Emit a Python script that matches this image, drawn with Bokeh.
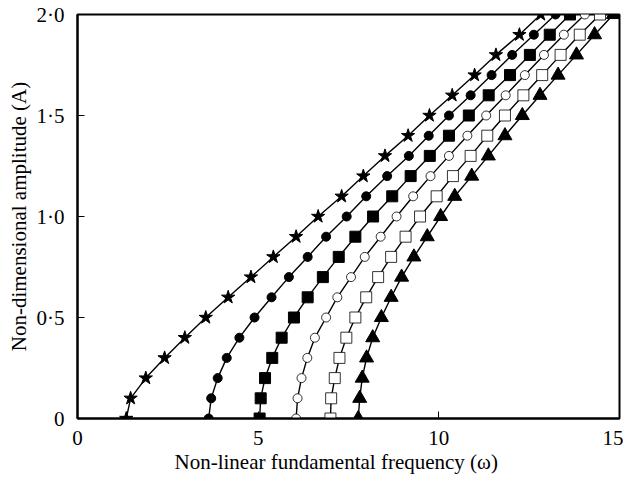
from bokeh.plotting import figure
from bokeh.models import Range1d, Title, FixedTicker
from bokeh.embed import file_html
from bokeh.resources import INLINE

amplitude = [0.0, 0.1, 0.2, 0.3, 0.4, 0.5, 0.6, 0.7, 0.8, 0.9, 1.0,
             1.1, 1.2, 1.3, 1.4, 1.5, 1.6, 1.7, 1.8, 1.9, 2.0]

freq_star = [1.35, 1.47, 1.89, 2.41, 2.97, 3.55, 4.17, 4.80, 5.42, 6.05, 6.66,
             7.31, 7.91, 8.51, 9.15, 9.74, 10.37, 10.99, 11.58, 12.23, 12.82]
freq_dot = [3.63, 3.70, 3.88, 4.13, 4.48, 4.90, 5.37, 5.85, 6.37, 6.88, 7.45,
            7.99, 8.57, 9.17, 9.72, 10.28, 10.88, 11.46, 12.03, 12.63, 13.23]
freq_square = [5.04, 5.07, 5.19, 5.39, 5.65, 5.99, 6.37, 6.79, 7.23, 7.69, 8.18,
               8.71, 9.22, 9.75, 10.28, 10.83, 11.38, 11.97, 12.52, 13.07, 13.63]
freq_ocircle = [6.05, 6.09, 6.20, 6.36, 6.57, 6.88, 7.19, 7.57, 7.95, 8.39, 8.83,
                9.29, 9.77, 10.28, 10.79, 11.31, 11.85, 12.38, 12.91, 13.46, 14.04]
freq_osquare = [7.00, 7.02, 7.12, 7.25, 7.44, 7.69, 7.99, 8.32, 8.68, 9.08, 9.48,
                9.94, 10.39, 10.88, 11.34, 11.83, 12.34, 12.86, 13.37, 13.90, 14.46]
freq_triangle = [7.77, 7.81, 7.88, 8.00, 8.17, 8.41, 8.68, 8.97, 9.31, 9.68, 10.05,
                 10.44, 10.91, 11.37, 11.83, 12.31, 12.80, 13.30, 13.81, 14.31, 14.83]

x_ticks = [0, 5, 10, 15]
y_ticks = [0, 0.5, 1.0, 1.5, 2.0]
y_tick_labels = {0: "0", 0.5: "0·5", 1: "1·0", 1.5: "1·5", 2: "2·0"}
x_label = "Non-linear fundamental frequency (ω)"
y_label = "Non-dimensional amplitude (A)"

FONT = "Liberation Serif"
FS = "21px"

p = figure(frame_width=542, frame_height=404, output_backend="svg",
           toolbar_location=None, x_range=Range1d(0, 15), y_range=Range1d(0, 2),
           min_border_left=77, min_border_right=4, min_border_top=14,
           min_border_bottom=60)
p.grid.visible = False
p.outline_line_color = "black"
p.outline_line_width = 2
p.background_fill_color = "white"
p.border_fill_color = "white"

for ax in (p.xaxis[0], p.yaxis[0]):
    ax.axis_line_width = 2
    ax.axis_line_color = "black"
    ax.major_tick_in = 7
    ax.major_tick_out = 0
    ax.minor_tick_in = 0
    ax.minor_tick_out = 0
    ax.major_tick_line_width = 1
    ax.major_label_text_font = FONT
    ax.major_label_text_font_size = FS
    ax.major_label_text_color = "black"

p.xaxis[0].ticker = FixedTicker(ticks=x_ticks)
p.yaxis[0].ticker = FixedTicker(ticks=y_ticks)
p.yaxis[0].major_label_overrides = y_tick_labels
p.xaxis[0].major_label_standoff = 12
p.yaxis[0].major_label_standoff = 13
p.yaxis[0].axis_label = y_label
p.yaxis[0].axis_label_text_font = FONT
p.yaxis[0].axis_label_text_font_size = FS
p.yaxis[0].axis_label_text_font_style = "normal"
p.yaxis[0].axis_label_text_color = "black"
p.yaxis[0].axis_label_standoff = 3

p.add_layout(Title(text=x_label, text_font=FONT, text_font_size=FS,
                   text_font_style="normal", text_color="black",
                   align="left", offset=97, standoff=1), "below")

series = [
    (freq_star, "star", 14, "black", 1.0),
    (freq_dot, "circle", 9, "black", 1.0),
    (freq_square, "square", 11, "black", 1.0),
    (freq_ocircle, "circle", 9, "white", 0.8),
    (freq_osquare, "square", 11, "white", 0.8),
    (freq_triangle, "triangle", 14, "black", 1.0),
]
for xs, marker, size, fill, lw in series:
    p.line(xs, amplitude, line_color="black", line_width=1.4)
for xs, marker, size, fill, lw in series:
    p.scatter(xs, amplitude, marker=marker, size=size, fill_color=fill,
              line_color="black", line_width=lw)

open("out.html", "w").write(file_html(p, INLINE))
